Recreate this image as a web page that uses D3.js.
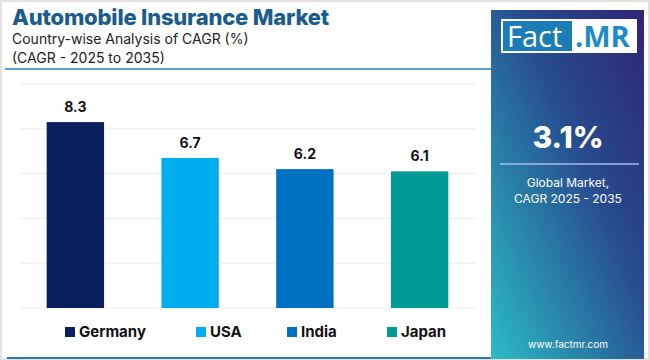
<!DOCTYPE html>
<html><head><meta charset="utf-8">
<script src="https://cdn.jsdelivr.net/npm/d3@7/dist/d3.min.js"></script>
<style>html,body{margin:0;padding:0;background:#fff;}svg{display:block;}</style>
</head><body>
<svg id="c" width="650" height="360"></svg>
<script>
const categories = ["Germany", "USA", "India", "Japan"];
const values = [8.3, 6.7, 6.2, 6.1];
const colors = ["#0b1f5e", "#00aeef", "#0070c0", "#009a94"];
const gridTicks = [0, 2, 4, 6, 8, 10];
const titleText = "Automobile Insurance Market";
const subtitle1 = "Country-wise Analysis of CAGR (%)";
const subtitle2 = "(CAGR - 2025 to 2035)";
const globalValue = "3.1%";
const globalLabel = ["Global Market,", "CAGR 2025 - 2035"];
const site = "www.factmr.com";

const svg = d3.select("#c");
const font = "Inter, 'Open Sans', sans-serif";

// frame
svg.append("rect").attr("x",1).attr("y",1).attr("width",648).attr("height",358)
  .attr("fill","#fff").attr("stroke","#e2e2e2").attr("stroke-width",2);

// defs gradient
const defs = svg.append("defs");
const g = defs.append("linearGradient").attr("id","pg")
  .attr("x1","100%").attr("y1","0%").attr("x2","0%").attr("y2","100%");
g.append("stop").attr("offset","0%").attr("stop-color","#302574");
g.append("stop").attr("offset","40%").attr("stop-color","#274a8e");
g.append("stop").attr("offset","100%").attr("stop-color","#2bbcc4");

// title
svg.append("text").attr("x",12).attr("y",25).text(titleText)
  .attr("font-family",font).attr("font-weight",800).attr("font-size",22)
  .attr("fill","#1a5c8e").attr("letter-spacing",-0.2);
svg.append("text").attr("x",12).attr("y",44).text(subtitle1)
  .attr("font-family",font).attr("font-size",14).attr("fill","#222");
svg.append("text").attr("x",12).attr("y",63).text(subtitle2)
  .attr("font-family",font).attr("font-size",14).attr("fill","#222");
svg.append("line").attr("x1",5).attr("x2",491).attr("y1",69).attr("y2",69)
  .attr("stroke","#2a7ab3").attr("stroke-width",1.5);
svg.append("line").attr("x1",7).attr("x2",491).attr("y1",358).attr("y2",358)
  .attr("stroke","#2a7ab3").attr("stroke-width",2);

// scales
const x = d3.scaleBand().domain(categories).range([18,477]).paddingInner(0.5).paddingOuter(0.25);
const y = d3.scaleLinear().domain([0,10]).range([308,84]);

// grid
svg.append("g").selectAll("line").data(gridTicks).join("line")
  .attr("x1",20).attr("x2",476).attr("y1",d=>y(d)).attr("y2",d=>y(d))
  .attr("stroke","#ececf0").attr("stroke-width",1);

// bars
svg.append("g").selectAll("rect").data(values).join("rect")
  .attr("x",(d,i)=>x(categories[i])).attr("width",x.bandwidth())
  .attr("y",d=>y(d)).attr("height",d=>y(0)-y(d))
  .attr("fill",(d,i)=>colors[i]);

// labels
svg.append("g").selectAll("text").data(values).join("text")
  .attr("x",(d,i)=>x(categories[i])+x.bandwidth()/2).attr("y",d=>y(d)-10)
  .attr("text-anchor","middle").text(d=>d.toFixed(1))
  .attr("font-family",font).attr("font-weight",700).attr("font-size",14).attr("fill","#111");

// legend
const legX = [65, 196, 287, 387];
const leg = svg.append("g").selectAll("g").data(categories).join("g")
  .attr("transform",(d,i)=>`translate(${legX[i]},327)`);
leg.append("rect").attr("width",10).attr("height",10).attr("fill",(d,i)=>colors[i]);
leg.append("text").attr("x",14).attr("y",10).text(d=>d)
  .attr("font-family",font).attr("font-weight",700).attr("font-size",15).attr("fill","#111");

// right panel
svg.append("rect").attr("x",491).attr("y",10).attr("width",153).attr("height",349).attr("fill","url(#pg)");
// logo
svg.append("rect").attr("x",501).attr("y",19).attr("width",136).attr("height",34).attr("fill","#fff");
svg.append("rect").attr("x",503).attr("y",21).attr("width",69).attr("height",30).attr("fill","#1c7cb6");
svg.append("text").attr("x",507).attr("y",47).text("Fact")
  .attr("font-family","'Open Sans', sans-serif").attr("font-size",29).attr("fill","#fff");
svg.append("text").attr("x",575).attr("y",47).text(".MR")
  .attr("font-family","'Open Sans', sans-serif").attr("font-weight",700).attr("font-size",29).attr("fill","#1c8cc6");

svg.append("text").attr("x",568).attr("y",148).attr("text-anchor","middle").text(globalValue)
  .attr("font-family",font).attr("font-weight",800).attr("font-size",30).attr("fill","#fff");
svg.append("line").attr("x1",500).attr("x2",639).attr("y1",164).attr("y2",164)
  .attr("stroke","#a9bde6").attr("stroke-width",1.5);
svg.append("g").selectAll("text").data(globalLabel).join("text")
  .attr("x",568).attr("y",(d,i)=>187+i*16).attr("text-anchor","middle").text(d=>d)
  .attr("font-family",font).attr("font-size",12).attr("fill","#fff");
svg.append("text").attr("x",568).attr("y",348).attr("text-anchor","middle").text(site)
  .attr("font-family",font).attr("font-size",10).attr("fill","#fff");
</script>
</body></html>
